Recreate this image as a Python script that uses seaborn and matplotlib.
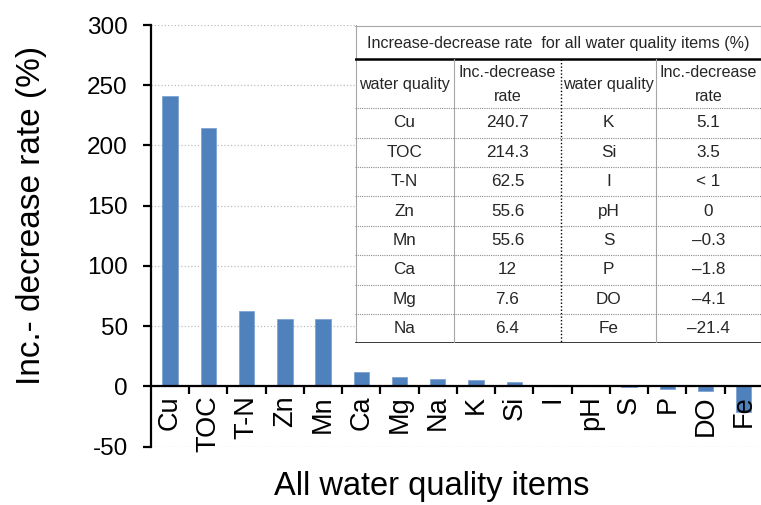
import matplotlib
matplotlib.use('Agg')
import matplotlib.pyplot as plt
import numpy as np
import pandas as pd
import seaborn as sns

# chart data
items = ['Cu', 'TOC', 'T-N', 'Zn', 'Mn', 'Ca', 'Mg', 'Na',
         'K', 'Si', 'I', 'pH', 'S', 'P', 'DO', 'Fe']
rates = [240.7, 214.3, 62.5, 55.6, 55.6, 12, 7.6, 6.4,
         5.1, 3.5, 0.4, 0, -0.3, -1.8, -4.1, -21.4]

# table text
table_title = 'Increase-decrease rate  for all water quality items (%)'
left_items = ['Cu', 'TOC', 'T-N', 'Zn', 'Mn', 'Ca', 'Mg', 'Na']
left_rates = ['240.7', '214.3', '62.5', '55.6', '55.6', '12', '7.6', '6.4']
right_items = ['K', 'Si', 'I', 'pH', 'S', 'P', 'DO', 'Fe']
right_rates = ['5.1', '3.5', '< 1', '0', '\u20130.3', '\u20131.8', '\u20134.1', '\u201321.4']

sns.set_theme(style='white')
plt.rcParams['font.family'] = ['Liberation Sans', 'DejaVu Sans']
plt.rcParams['axes.unicode_minus'] = False

W, H = 761, 505
fig = plt.figure(figsize=(W / 100, H / 100), dpi=100)
ax = fig.add_axes([151 / W, 1 - 446.7 / H, 1 - 151 / W, 421.7 / H])

df = pd.DataFrame({'item': items, 'rate': rates})
sns.barplot(data=df, x='item', y='rate', color='#4F81BD', saturation=1,
            width=0.4, ax=ax, edgecolor='#7fa3d3', linewidth=0.6)

ax.set_ylim(-50, 300)
ax.set_xlim(-0.5, 15.45)
ax.set_yticks(np.arange(-50, 301, 50))
ax.grid(False)
ax.set_axisbelow(False)  # tick labels over the bars (Fe label overlaps its bar)
# dotted grid kept under the bars
for yv in ax.get_yticks():
    ax.axhline(yv, linestyle=':', color='#bdbdbd', linewidth=0.9, zorder=0.3)

for s in ['top', 'right']:
    ax.spines[s].set_visible(False)
ax.spines['bottom'].set_position(('data', 0))
for s in ['left', 'bottom']:
    ax.spines[s].set_color('black')
    ax.spines[s].set_linewidth(1.6)

ax.set_xticks(range(len(items)))
ax.set_xticklabels(items, rotation=90, fontsize=19.5, va='top')
ax.set_xticks(np.arange(0.5, len(items) - 0.5, 1), minor=True)
ax.tick_params(axis='x', which='major', length=0, pad=6.5, colors='black')
ax.tick_params(axis='x', which='minor', bottom=True, length=5.8, width=1.6,
               direction='out', color='black')
ax.tick_params(axis='y', which='major', left=True, length=5.8, width=1.6,
               direction='out', pad=11, labelsize=17.5, colors='black')

ax.set_xlabel('All water quality items', fontsize=23.5, color='black')
ax.xaxis.set_label_coords((432 - 151) / (W - 151), -(471 - 446.7) / 421.7)
ax.set_ylabel('Inc.- decrease rate (%)', fontsize=24, color='black')
ax.yaxis.set_label_coords(-(151 - 47) / (W - 151), (446.7 - 215) / 421.7)

# summary table as inset
tx0, tx1, ty0, ty1 = 355, 761, 25, 343.3
tab = fig.add_axes([tx0 / W, 1 - ty1 / H, (tx1 - tx0) / W, (ty1 - ty0) / H])
tab.set_xlim(tx0, tx1)
tab.set_ylim(ty1, ty0)
tab.set_facecolor('white')
tab.set_xticks([])
tab.set_yticks([])
for s in tab.spines.values():
    s.set_visible(False)

grey = '#a6a6a6'
tab.plot([tx0 + 0.5, tx0 + 0.5], [ty0, ty1], color=grey, lw=0.8)
tab.plot([tx1 - 0.5, tx1 - 0.5], [ty0, ty1], color=grey, lw=0.8)
tab.plot([tx0, tx1], [ty0 + 0.5, ty0 + 0.5], color=grey, lw=0.8)
tab.plot([tx0, tx1], [59, 59], color='black', lw=1.8)
tab.plot([tx0, tx1], [ty1 - 0.8, ty1 - 0.8], color='black', lw=1.8)

cols = [tx0, 454, 561, 656, tx1]
tab.plot([454, 454], [59, ty1], color=grey, lw=0.8)
tab.plot([656, 656], [59, ty1], color=grey, lw=0.8)
tab.plot([561, 561], [59, ty1], color='black', lw=1.0, linestyle=(0, (1, 1.5)))

head_bottom = 108.3
row_h = (ty1 - head_bottom) / len(left_items)
for i in range(len(left_items)):
    yy = head_bottom + i * row_h
    tab.plot([tx0, tx1], [yy, yy], color='#8c8c8c', lw=0.8, linestyle=(0, (1, 1)))

fs_head = 11.6
fs = 12.3
tab.text((tx0 + tx1) / 2, 43.5, table_title, ha='center', va='center', fontsize=11.6)
for c in [0, 2]:
    xc = (cols[c] + cols[c + 1]) / 2
    tab.text(xc, 85, 'water quality', ha='center', va='center', fontsize=fs_head)
    xr = (cols[c + 1] + cols[c + 2]) / 2
    tab.text(xr, 72.5, 'Inc.-decrease', ha='center', va='center', fontsize=fs_head)
    tab.text(xr, 96.5, 'rate', ha='center', va='center', fontsize=fs_head)

for i in range(len(left_items)):
    yc = head_bottom + (i + 0.5) * row_h
    row = [left_items[i], left_rates[i], right_items[i], right_rates[i]]
    for c, txt in enumerate(row):
        tab.text((cols[c] + cols[c + 1]) / 2, yc, txt, ha='center', va='center',
                 fontsize=fs)

fig.savefig('out.png', dpi=100)
